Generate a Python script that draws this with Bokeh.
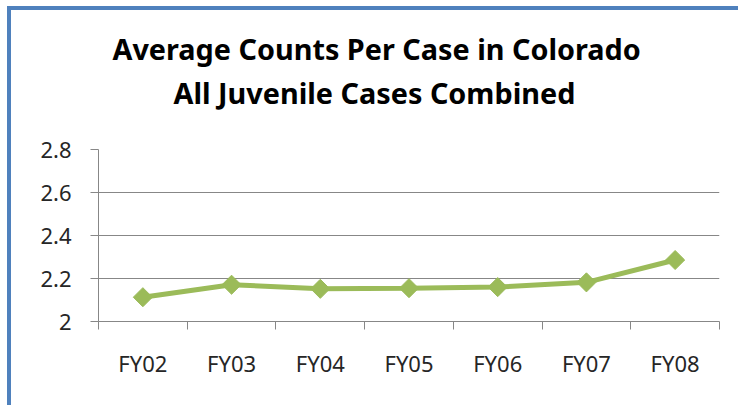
from bokeh.plotting import figure
from bokeh.models import Range1d, FixedTicker, Title, ColumnDataSource
from bokeh.embed import file_html
from bokeh.resources import INLINE
import math

# ---- data ----
categories = ["FY02", "FY03", "FY04", "FY05", "FY06", "FY07", "FY08"]
avg_counts = [2.113, 2.171, 2.152, 2.155, 2.160, 2.182, 2.286]
y_ticks = [2.0, 2.2, 2.4, 2.6, 2.8]
y_tick_labels = ["2", "2.2", "2.4", "2.6", "2.8"]
title_lines = ["Average Counts Per Case in Colorado", "All Juvenile Cases Combined"]

W, H = 738, 405
FL, FR, FT, FB = 98, 719, 149, 321  # frame edges in canvas px
N = len(categories)
Y0, Y1 = y_ticks[0], y_ticks[-1]

xs = [i + 0.5 for i in range(N)]
src = ColumnDataSource(dict(x=xs, y=avg_counts, cat=categories))

BLUE = "#4F81BD"
border_css = (
    f"linear-gradient({BLUE},{BLUE}) 7px 6px / 4px calc(100% - 6px) no-repeat, "
    f"linear-gradient({BLUE},{BLUE}) 7px 6px / calc(100% - 7px) 4px no-repeat, #ffffff"
)

p = figure(width=W, height=H, output_backend="svg", toolbar_location=None,
           x_range=Range1d(0, N), y_range=Range1d(Y0, Y1),
           min_border_left=FL, min_border_right=W - FR, min_border_top=FT, min_border_bottom=H - FB,
           styles={"background": border_css})
p.outline_line_color = None
p.background_fill_color = None
p.border_fill_color = None

GRAY = "#878787"
LABEL_FONT = "Noto Sans"

# x axis: labels at category centres, ticks at boundaries
xa = p.xaxis[0]
xa.ticker = FixedTicker(ticks=xs, minor_ticks=list(range(N + 1)))
xa.major_label_overrides = {x: c for x, c in zip(xs, categories)}
xa.major_tick_out = 0
xa.major_tick_in = 0
xa.minor_tick_out = 8
xa.minor_tick_in = 0
xa.minor_tick_line_color = GRAY
xa.axis_line_color = GRAY
xa.major_label_text_font = LABEL_FONT
xa.major_label_text_font_size = "22px"
xa.major_label_text_color = "#262626"
xa.major_label_standoff = 18

ya = p.yaxis[0]
ya.ticker = FixedTicker(ticks=y_ticks)
ya.major_label_overrides = {t: l for t, l in zip(y_ticks, y_tick_labels)}
ya.major_tick_out = 8
ya.major_tick_in = 0
ya.major_tick_line_color = GRAY
ya.minor_tick_line_color = None
ya.axis_line_color = GRAY
ya.major_label_text_font = LABEL_FONT
ya.major_label_text_font_size = "22px"
ya.major_label_text_color = "#262626"
ya.major_label_standoff = 19

p.xgrid.grid_line_color = None
p.ygrid.ticker = FixedTicker(ticks=y_ticks)
p.ygrid.grid_line_color = GRAY
p.ygrid.grid_line_width = 1

GREEN = "#9BBB59"
p.line("x", "y", source=src, line_color=GREEN, line_width=5)
p.scatter("x", "y", source=src, marker="square", size=13.5, angle=math.pi / 4,
          fill_color=GREEN, line_color=GREEN)

# spacer between frame and titles (stacked from the frame outwards)
p.add_layout(Title(text=" ", standoff=34, text_font_size="1px"), "above")
# titles: inner line first, then outer line; left-aligned with offsets
p.add_layout(Title(text=title_lines[1], align="left", offset=75,
                   standoff=2, text_font=LABEL_FONT, text_font_style="bold",
                   text_font_size="28.8px", text_color="black"), "above")
p.add_layout(Title(text=title_lines[0], align="left", offset=14,
                   standoff=3, text_font=LABEL_FONT, text_font_style="bold",
                   text_font_size="28.8px", text_color="black"), "above")

open("out.html", "w").write(file_html(p, INLINE))
